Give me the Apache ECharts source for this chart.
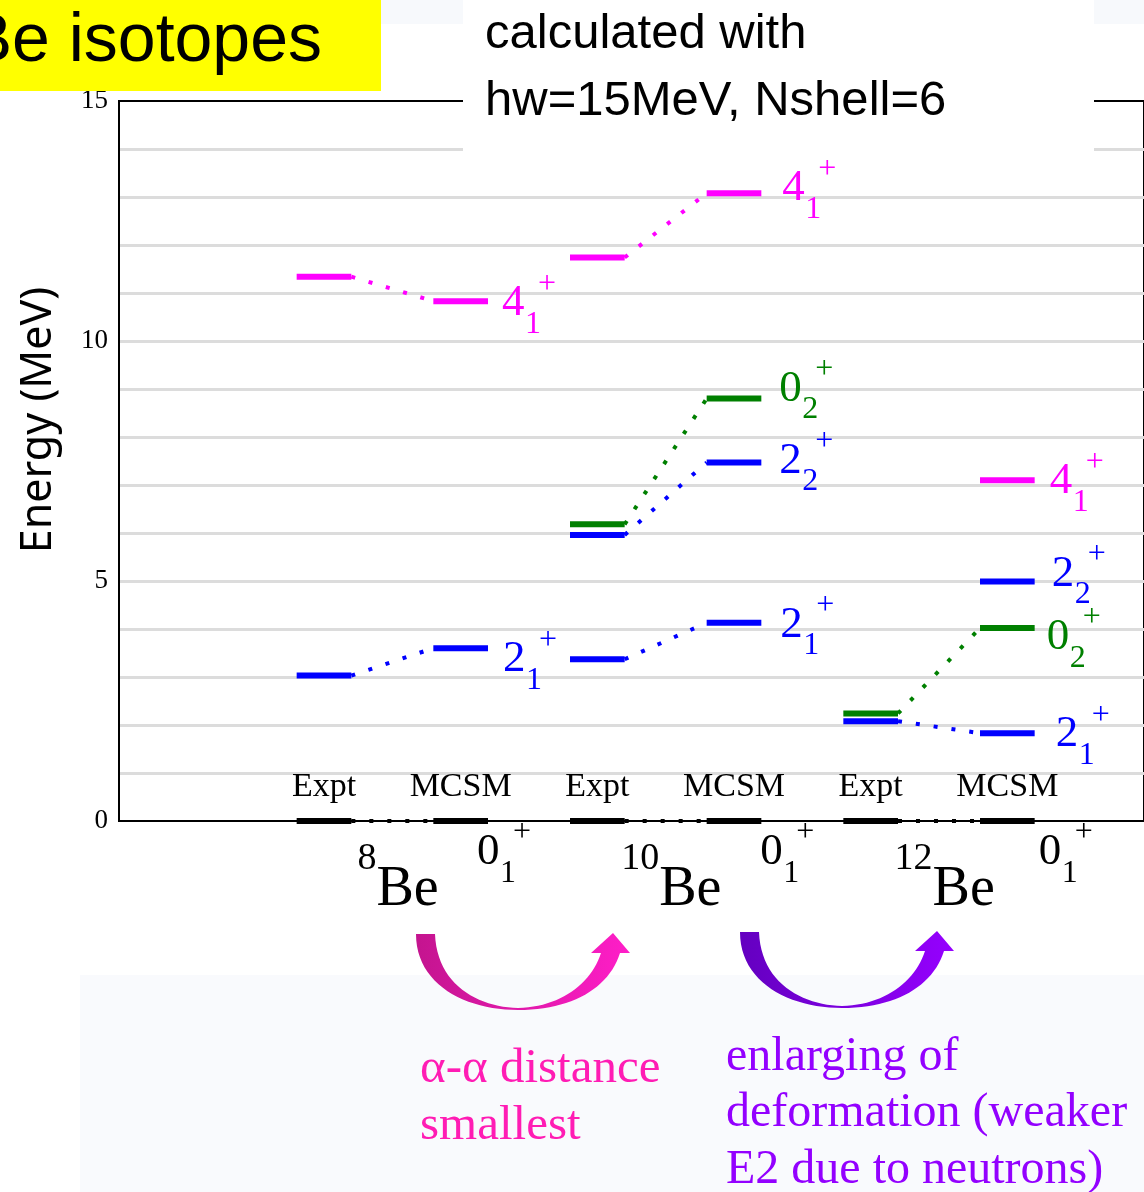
<!DOCTYPE html>
<html>
<head>
<meta charset="utf-8">
<script src="https://cdn.jsdelivr.net/npm/echarts@6.0.0/dist/echarts.min.js"></script>
<style>
html,body{margin:0;padding:0;background:#ffffff;}
#chart{width:1144px;height:1192px;}
</style>
</head>
<body>
<div id="chart"></div>
<script>
// ---------------- data ----------------
const massNumbers = ['8', '10', '12'];
const columnLabels = ['Expt', 'MCSM', 'Expt', 'MCSM', 'Expt', 'MCSM'];
const yTickLabels = ['0', '5', '10', '15'];
// level energies in MeV for [8Be, 10Be, 12Be]
const expt_0p1 = [0, 0, 0];
const mcsm_0p1 = [0, 0, 0];
const expt_2p1 = [3.03, 3.37, 2.08];
const mcsm_2p1 = [3.60, 4.13, 1.83];
const expt_0p2 = [null, 6.18, 2.24];
const mcsm_0p2 = [null, 8.80, 4.02];
const expt_2p2 = [null, 5.96, null];
const mcsm_2p2 = [null, 7.47, 4.99];
const expt_4p1 = [11.34, 11.74, null];
const mcsm_4p1 = [10.83, 13.08, 7.10];
const states = [
  {key: '0p1', J: '0', n: '1', expt: expt_0p1, mcsm: mcsm_0p1},
  {key: '2p1', J: '2', n: '1', expt: expt_2p1, mcsm: mcsm_2p1},
  {key: '0p2', J: '0', n: '2', expt: expt_0p2, mcsm: mcsm_0p2},
  {key: '2p2', J: '2', n: '2', expt: expt_2p2, mcsm: mcsm_2p2},
  {key: '4p1', J: '4', n: '1', expt: expt_4p1, mcsm: mcsm_4p1}
];
const titleText = 'Be isotopes';
const noteLines = ['calculated with', 'hw=15MeV, Nshell=6'];
const yAxisTitle = 'Energy (MeV)';
const pinkLines = ['\u03b1-\u03b1 distance', 'smallest'];
const purpleLines = ['enlarging of', 'deformation (weaker', 'E2 due to neutrons)'];

// ---------------- styles ----------------
const SERIF = '"Liberation Serif", "Times New Roman", serif';
const SANS = '"Liberation Sans", Arial, sans-serif';
const stateColor = {'0p1': '#000000', '2p1': '#0000ff', '0p2': '#008000', '2p2': '#0000ff', '4p1': '#ff00ff'};
// label baseline offset below the level (px), per isotope
const labelDy = {'0p1': [45, 45, 45], '2p1': [25, 16, 15], '0p2': [0, 4, 23], '2p2': [0, 12, 6], '4p1': [16, 9, 15]};
// label start offset from right end of MCSM level (px)
const labelDx = {'0p1': [-11, -1, 4], '2p1': [15, 19, 21], '0p2': [0, 18, 12], '2p2': [0, 18, 17], '4p1': [14, 21, 15]};
const HALF = 0.2;      // half level width in x units
const MAINF = 45, SUBF = 32, PLUSF = 32;
const MID = 0.305;     // em-middle above baseline

const measureCtx = document.createElement('canvas').getContext('2d');
function textW(str, font) { measureCtx.font = font; return measureCtx.measureText(str).width; }

function txt(x, y, text, font, fill, align) {
  return {type: 'text', x: x, y: y, silent: true,
    style: {text: text, font: font, fill: fill, align: align || 'left', textAlign: align || 'left',
            verticalAlign: 'middle', textVerticalAlign: 'middle'}};
}

function levelRenderer(st) {
  return function (params, api) {
    const i = api.value(0), e = api.value(1), m = api.value(2);
    const color = stateColor[st.key];
    const xe = 2 * i, xm = 2 * i + 1;
    const kids = [];
    function bar(x, E) {
      const a = api.coord([x - HALF, E]), b = api.coord([x + HALF, E]);
      return {type: 'line', shape: {x1: a[0], y1: a[1], x2: b[0], y2: b[1]},
              style: {stroke: color, lineWidth: 6, lineCap: 'butt'}};
    }
    if (!isNaN(e)) {
      const a = api.coord([xe + HALF, e]), b = api.coord([xm - HALF, m]);
      kids.push({type: 'line', shape: {x1: a[0], y1: a[1], x2: b[0], y2: b[1]},
                 style: {stroke: color, lineWidth: 4, lineDash: [4, 14], lineCap: 'butt'}});
      kids.push(bar(xe, e));
    }
    kids.push(bar(xm, m));
    const end = api.coord([xm + HALF, m]);
    const x0 = end[0] + labelDx[st.key][i];
    const base = end[1] + labelDy[st.key][i];
    kids.push(txt(x0, base - MID * MAINF, st.J, MAINF + 'px ' + SERIF, color));
    kids.push(txt(x0 + 23, base + 17 - MID * SUBF, st.n, SUBF + 'px ' + SERIF, color));
    kids.push(txt(x0 + 45, base - 33, '+', PLUSF + 'px ' + SERIF, color, 'center'));
    return {type: 'group', children: kids};
  };
}

const levelSeries = states.map(function (st) {
  const rows = [];
  massNumbers.forEach(function (_, i) {
    if (st.mcsm[i] !== null) rows.push([i, st.expt[i], st.mcsm[i]]);
  });
  return {type: 'custom', name: st.key, data: rows, clip: false,
          encode: {x: 0, y: [1, 2]}, renderItem: levelRenderer(st), z: st.key === '0p1' ? 4 : 3};
});

const columnSeries = {
  type: 'custom', name: 'columns', clip: false, z: 3,
  data: columnLabels.map(function (t, k) { return [k, 0]; }),
  renderItem: function (params, api) {
    const p = api.coord([api.value(0), api.value(1)]);
    return txt(p[0], p[1] - 34, columnLabels[params.dataIndex], '34px ' + SERIF, '#000', 'center');
  }
};

const isotopeSeries = {
  type: 'custom', name: 'isotopes', clip: false, z: 3,
  data: massNumbers.map(function (t, i) { return [2 * i, 0]; }),
  renderItem: function (params, api) {
    const p = api.coord([api.value(0), api.value(1)]);
    const mass = massNumbers[params.dataIndex];
    const mf = '38px ' + SERIF, bf = '56px ' + SERIF;
    const wm = textW(mass, mf), wb = textW('Be', bf);
    const cx = p[0] + 74;
    const left = cx - (wm + wb) / 2;
    return {type: 'group', children: [
      txt(left + wm, p[1] + 38, mass, mf, '#000', 'right'),
      txt(left + wm, p[1] + 86 - MID * 56, 'Be', bf, '#000', 'left')
    ]};
  }
};

// decorative curved arrow outline, sampled into polygon points
function cubic(p0, p1, p2, p3, n, out) {
  for (let k = 1; k <= n; k++) {
    const t = k / n, u = 1 - t;
    out.push([u*u*u*p0[0] + 3*u*u*t*p1[0] + 3*u*t*t*p2[0] + t*t*t*p3[0],
              u*u*u*p0[1] + 3*u*u*t*p1[1] + 3*u*t*t*p2[1] + t*t*t*p3[1]]);
  }
}
function arrowPoints(dx, dy) {
  const P = function (x, y) { return [x + dx, y + dy]; };
  const pts = [P(416, 934)];
  cubic(P(416, 934), P(416, 985), P(466, 1010), P(518, 1010), 24, pts);
  cubic(P(518, 1010), P(572, 1010), P(609, 988), P(620, 953), 24, pts);
  pts.push(P(630, 953), P(613, 933), P(591, 953), P(601, 953));
  cubic(P(601, 953), P(591, 984), P(560, 1007), P(518, 1008), 24, pts);
  cubic(P(518, 1008), P(478, 1007), P(437, 985), P(435, 934), 24, pts);
  return pts;
}
function grad(c0, c1) {
  return {type: 'linear', x: 0, y: 0, x2: 1, y2: 0, colorStops: [{offset: 0, color: c0}, {offset: 1, color: c1}]};
}

const graphics = [
  {type: 'rect', z: -10, silent: true, shape: {x: 0, y: 0, width: 1144, height: 24}, style: {fill: '#f7f9fc'}},
  {type: 'rect', z: -10, silent: true, shape: {x: 80, y: 975, width: 1064, height: 217}, style: {fill: '#f9fafd'}},
  {type: 'rect', z: 20, silent: true, shape: {x: 0, y: 0, width: 381, height: 91}, style: {fill: '#ffff00'}},
  Object.assign(txt(322, 63 - 0.31 * 68, titleText, '68px ' + SANS, '#000', 'right'), {z: 21}),
  {type: 'rect', z: 20, silent: true, shape: {x: 463, y: 0, width: 631, height: 158}, style: {fill: '#ffffff'}},
  Object.assign(txt(485, 50 - 0.31 * 49, noteLines[0], '49px ' + SANS, '#000'), {z: 21}),
  Object.assign(txt(485, 117 - 0.31 * 49, noteLines[1], '49px ' + SANS, '#000'), {z: 21}),
  Object.assign(txt(39, 420, yAxisTitle, '43px "Noto Sans", sans-serif', '#000', 'center'), {rotation: Math.PI / 2, z: 21}),
  {type: 'polygon', z: 5, silent: true, shape: {points: arrowPoints(0, 0)}, style: {fill: grad('#c4148f', '#ff1ec8')}},
  {type: 'polygon', z: 5, silent: true, shape: {points: arrowPoints(324, -2)}, style: {fill: grad('#6400c0', '#9600ff')}}
];
pinkLines.forEach(function (s, k) {
  graphics.push(Object.assign(txt(420, 1084 + 57 * k - MID * 48, s, '49px ' + SERIF, '#ff1cb4'), {z: 6}));
});
purpleLines.forEach(function (s, k) {
  graphics.push(Object.assign(txt(726, 1072 + 56.5 * k - MID * 48, s, '48px ' + SERIF, '#9300ff'), {z: 6}));
});

const option = {
  animation: false,
  backgroundColor: '#ffffff',
  grid: {left: 119, top: 101, width: 1030, height: 720, show: true, borderColor: '#000', borderWidth: 2, backgroundColor: 'transparent'},
  xAxis: {type: 'value', min: -1.5, max: 6, interval: 0.5,
    axisLine: {show: true, onZero: false, lineStyle: {color: '#000', width: 2}},
    axisTick: {show: false}, axisLabel: {show: false}, splitLine: {show: false}},
  yAxis: {type: 'value', min: 0, max: 15, interval: 1,
    axisLine: {show: true, onZero: false, lineStyle: {color: '#000', width: 2}},
    axisTick: {show: false},
    axisLabel: {color: '#000', fontFamily: SERIF, fontSize: 27, margin: 11,
      formatter: function (v) { return yTickLabels.indexOf(String(v)) >= 0 ? String(v) : ''; }},
    splitLine: {show: true, showMinLine: false, showMaxLine: false, lineStyle: {color: '#dcdcdc', width: 3}}},
  graphic: {elements: graphics},
  series: levelSeries.concat([columnSeries, isotopeSeries])
};

const chart = echarts.init(document.getElementById('chart'), null, {renderer: 'canvas'});
chart.setOption(option);
</script>
</body>
</html>
